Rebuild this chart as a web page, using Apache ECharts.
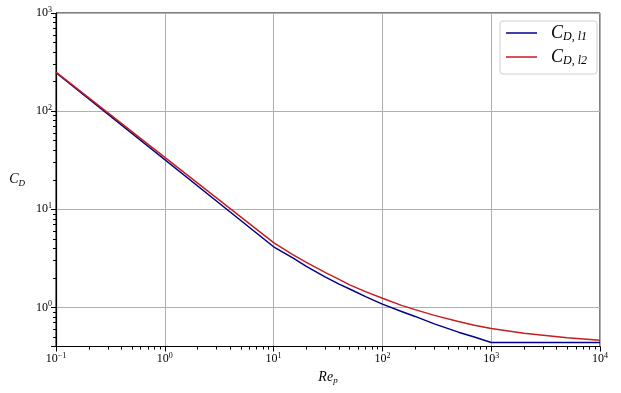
<!DOCTYPE html>
<html>
<head>
<meta charset="utf-8">
<script src="https://cdn.jsdelivr.net/npm/echarts@6/dist/echarts.min.js"></script>
<style>
  html, body { margin: 0; padding: 0; background: #fff; }
  #main { width: 621px; height: 393px; }
</style>
</head>
<body>
<div id="main"></div>
<script>
// Re_p 采样点
var rep = [0.1, 10, 15, 20, 30, 40, 50, 70, 100, 150, 200, 300, 500, 700, 1000, 2000, 3000, 5000, 10000];
// C_D,l1
var cdL1 = [247, 4.15, 3.2, 2.62, 2.04, 1.73, 1.54, 1.29, 1.08, 0.91, 0.81, 0.68, 0.56, 0.5, 0.44, 0.44, 0.44, 0.44, 0.44];
// C_D,l2
var cdL2 = [250, 4.57, 3.46, 2.88, 2.26, 1.93, 1.7, 1.45, 1.24, 1.05, 0.95, 0.83, 0.72, 0.66, 0.61, 0.545, 0.52, 0.49, 0.462];
// 坐标范围
var xRange = [0.1, 10000];
var yRange = [0.4, 1000];
var seriesNames = ['C_D,l1', 'C_D,l2'];

var serif = 'Liberation Serif';

// 次刻度 (对数空间位置)
function minorTicks(lo, hi) {
  var out = [];
  for (var d = Math.floor(Math.log10(lo)); d <= Math.ceil(Math.log10(hi)); d++) {
    for (var k = 2; k <= 9; k++) {
      var v = k * Math.pow(10, d);
      if (v > lo && v < hi) out.push(Math.log10(v));
    }
  }
  return out;
}

function pair(xs, ys) {
  var arr = [];
  for (var i = 0; i < xs.length; i++) arr.push([xs[i], ys[i]]);
  return arr;
}

function powLabel(v) {
  var l = Math.log10(v);
  var e = Math.round(l);
  if (Math.abs(l - e) > 1e-6) return '';
  return '{b|10}{s|' + (e < 0 ? '\u2212' + (-e) : e) + '}';
}

var tickRich = {
  b: { fontFamily: serif, fontSize: 12, color: '#000', lineHeight: 15 },
  s: { fontFamily: serif, fontSize: 8, color: '#000', verticalAlign: 'top', lineHeight: 9 }
};

var chart = echarts.init(document.getElementById('main'));

var option = {
  animation: false,
  grid: {
    left: 56, right: 21, top: 13, bottom: 46.5,
    show: true, borderColor: '#000', borderWidth: 1
  },
  legend: {
    data: seriesNames,
    orient: 'vertical',
    right: 24, top: 21,
    padding: [3, 10, 7, 6],
    itemGap: 5,
    icon: 'rect',
    itemWidth: 31, itemHeight: 1.5,
    backgroundColor: '#fff',
    borderColor: '#d0d0d0', borderWidth: 1, borderRadius: 3,
    textStyle: {
      rich: {
        c: { fontFamily: serif, fontStyle: 'italic', fontSize: 18, color: '#000', lineHeight: 20, padding: [0, 0, 0, 9] },
        s: { fontFamily: serif, fontStyle: 'italic', fontSize: 12, color: '#000', verticalAlign: 'bottom', lineHeight: 12 }
      }
    },
    formatter: function (name) {
      return '{c|C}{s|' + name.split('_')[1].replace(',', ', ') + '}';
    }
  },
  xAxis: [{
    type: 'log', logBase: 10,
    min: xRange[0], max: xRange[1],
    name: '{i|Re}{s|p}',
    nameLocation: 'middle', nameGap: 22,
    nameTextStyle: {
      rich: {
        i: { fontFamily: serif, fontStyle: 'italic', fontSize: 14, color: '#000', lineHeight: 16 },
        s: { fontFamily: serif, fontStyle: 'italic', fontSize: 9, color: '#000', verticalAlign: 'bottom', lineHeight: 10 }
      }
    },
    axisLine: { onZero: false, lineStyle: { color: '#000', width: 1.2 } },
    axisTick: { show: true, length: 5, lineStyle: { color: '#000' } },
    axisLabel: { margin: 5, formatter: powLabel, rich: tickRich },
    splitLine: { show: true, lineStyle: { color: '#b0b0b0', width: 1 } }
  }, {
    type: 'value', position: 'bottom',
    min: Math.log10(xRange[0]), max: Math.log10(xRange[1]),
    axisLine: { show: false, onZero: false },
    axisLabel: { show: false },
    splitLine: { show: false },
    axisTick: { show: true, length: 3, customValues: minorTicks(xRange[0], xRange[1]), lineStyle: { color: '#000' } }
  }],
  yAxis: [{
    type: 'log', logBase: 10,
    min: yRange[0], max: yRange[1],
    name: '{i|C}{s|D}',
    nameLocation: 'middle', nameRotate: 0, nameGap: 31,
    nameTextStyle: {
      align: 'right',
      rich: {
        i: { fontFamily: serif, fontStyle: 'italic', fontSize: 14, color: '#000', lineHeight: 16 },
        s: { fontFamily: serif, fontStyle: 'italic', fontSize: 9, color: '#000', verticalAlign: 'bottom', lineHeight: 10 }
      }
    },
    axisLine: { onZero: false, lineStyle: { color: '#000', width: 1.2 } },
    axisTick: { show: true, length: 5, lineStyle: { color: '#000' } },
    axisLabel: { margin: 4, formatter: powLabel, rich: tickRich },
    splitLine: { show: true, lineStyle: { color: '#b0b0b0', width: 1 } }
  }, {
    type: 'value', position: 'left',
    min: Math.log10(yRange[0]), max: Math.log10(yRange[1]),
    axisLine: { show: false, onZero: false },
    axisLabel: { show: false },
    splitLine: { show: false },
    axisTick: { show: true, length: 3, customValues: minorTicks(yRange[0], yRange[1]), lineStyle: { color: '#000' } }
  }],
  series: [{
    name: seriesNames[0],
    type: 'line',
    data: pair(rep, cdL1),
    symbol: 'none',
    color: '#00008b',
    lineStyle: { width: 1.5, color: '#00008b' }
  }, {
    name: seriesNames[1],
    type: 'line',
    data: pair(rep, cdL2),
    symbol: 'none',
    color: '#c41e1e',
    lineStyle: { width: 1.5, color: '#c41e1e' }
  }]
};

chart.setOption(option);
</script>
</body>
</html>
